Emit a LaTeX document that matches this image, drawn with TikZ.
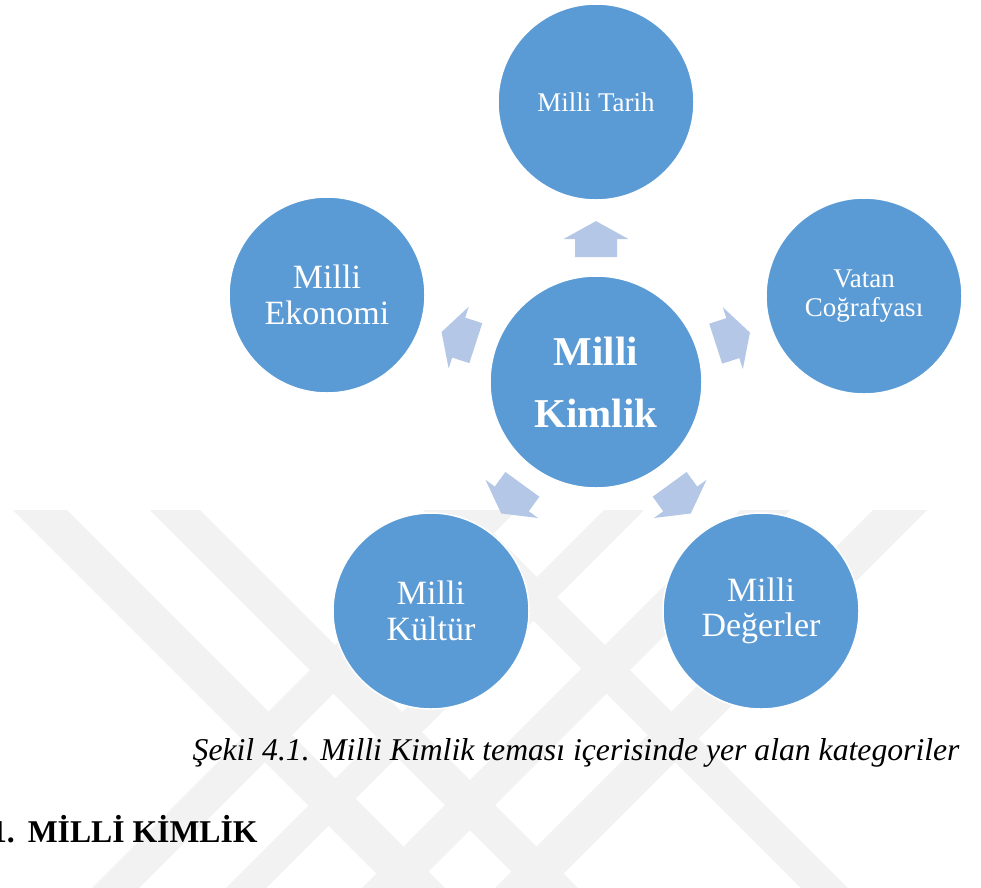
\documentclass[tikz,border=0pt]{standalone}
\usepackage{fontspec}
\setmainfont{Liberation Serif}
\usetikzlibrary{calc}
\definecolor{circblue}{HTML}{5B9BD5}
\definecolor{arrblue}{HTML}{B4C7E7}
\definecolor{wmgray}{HTML}{F2F2F2}
\newcommand\blockarrow[3]{%
  \begin{scope}[shift={($(#1)!0.514!(#2)$)}, rotate=#3]
    \fill[arrblue] (-19,-21) -- (-1,-21) -- (-1,-32.5) -- (17,0) -- (-1,32.5) -- (-1,21) -- (-19,21) -- cycle;
  \end{scope}}
\begin{document}
\begin{tikzpicture}[x=1pt,y=-1pt,
  outer/.style={circle, fill=circblue, draw=white, line width=1.5pt, minimum size=196pt, inner sep=0pt, text=white, align=center, font=\fontsize{34}{35.5}\selectfont},
  outersmall/.style={outer, font=\fontsize{27}{28.5}\selectfont},
  inner/.style={circle, fill=circblue, draw=white, line width=1.5pt, minimum size=212pt, inner sep=0pt, text=white, align=center, font=\bfseries\fontsize{41}{62}\selectfont},
  band/.style={fill=wmgray}]
\useasboundingbox (0,0) rectangle (981,887);
\fill[white] (0,0) rectangle (981,887);
% watermark
\begin{scope}
  \clip (0,510) rectangle (981,887);
  \fill[band] (13,510) -- (67,510) -- (457,900) -- (403,900) -- cycle;
  \fill[band] (150,510) -- (200,510) -- (590,900) -- (540,900) -- cycle;
  \fill[band] (80,900) -- (127,900) -- (517,510) -- (470,510) -- cycle;
  \fill[band] (214,900) -- (254,900) -- (644,510) -- (604,510) -- cycle;
  \fill[band] (873,510) -- (927,510) -- (537,900) -- (483,900) -- cycle;
  \fill[band] (740,510) -- (790,510) -- (400,900) -- (350,900) -- cycle;
  \fill[band] (813,900) -- (860,900) -- (470,510) -- (423,510) -- cycle;
\end{scope}
% circles
\node[inner] (c) at (596,382) {Milli\\Kimlik};
\node[outersmall] (t1) at (596,102) {Milli Tarih};
\node[outer] (t2) at (327,295) {Milli\\Ekonomi};
\node[outersmall] (t3) at (864,296) {Vatan\\Coğrafyası};
\node[outer] (t4) at (431,611) {Milli\\Kültür};
\node[outer] (t5) at (761,611) {Milli\\Değerler};
% arrows
\blockarrow{c}{t1}{90}
\blockarrow{c}{t2}{162}
\blockarrow{c}{t3}{18}
\blockarrow{c}{t4}{-126}
\blockarrow{c}{t5}{-54}
% texts
\node[anchor=base east, font=\itshape\fontsize{31.7}{38}\selectfont] (cap) at (963,760) {Şekil 4.1. Milli Kimlik teması içerisinde yer alan kategoriler};
\node[anchor=base west, inner sep=0pt, font=\bfseries\fontsize{31.7}{38}\selectfont] (head) at (-9.2,842) {1.\hspace{13pt}MİLLİ KİMLİK};
\end{tikzpicture}
\end{document}
